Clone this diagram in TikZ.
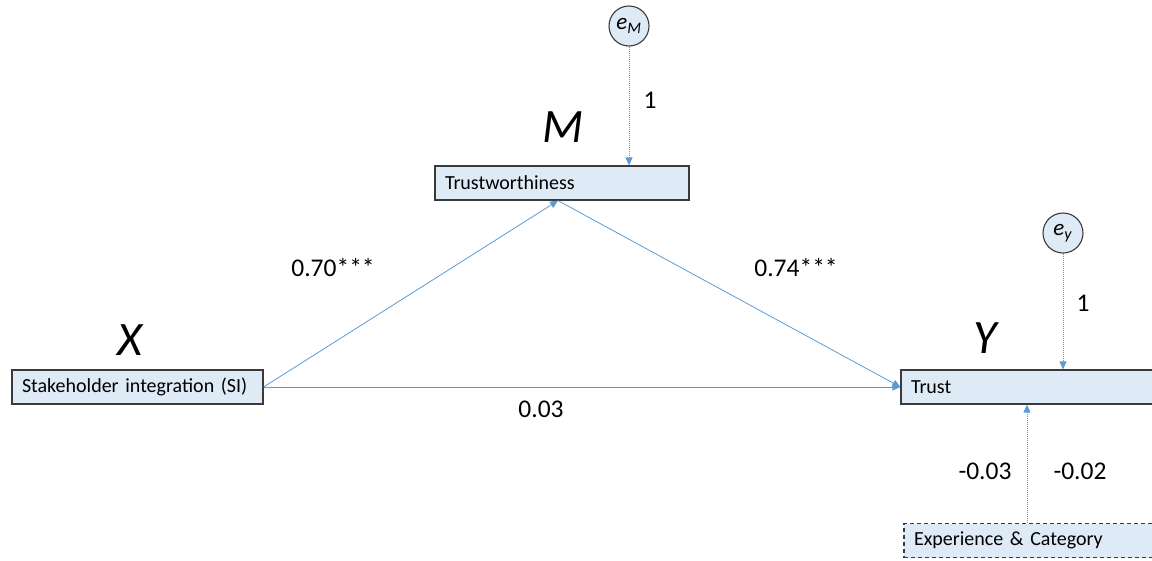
\documentclass[tikz,border=0pt]{standalone}
\usepackage{fontspec}
\setmainfont{Carlito}
\usetikzlibrary{arrows.meta}
\definecolor{boxfill}{HTML}{DEEBF7}
\definecolor{boxline}{HTML}{3A3A3A}
\definecolor{arrowblue}{HTML}{5B9BD5}
\tikzset{
  varbox/.style={draw=boxline, line width=1.2pt, fill=boxfill, inner xsep=10pt, inner ysep=0pt,
    align=left, minimum height=34pt, font=\fontsize{20}{23}\selectfont},
  errc/.style={circle, draw=boxline, line width=1.1pt, fill=boxfill, minimum size=40pt, inner sep=0pt,
    font=\fontsize{23}{26}\selectfont},
  path/.style={draw=arrowblue, line width=0.8pt, -{Triangle[width=7pt,length=8pt]}},
  errpath/.style={path, dash pattern=on 1pt off 1pt},
  coef/.style={font=\fontsize{25.5}{29}\selectfont},
  biglab/.style={font=\fontsize{48}{52}\selectfont\itshape}
}
\begin{document}
\begin{tikzpicture}[x=1pt,y=-1pt]
\clip (0,0) rectangle (1152,560);
% boxes
\node[varbox, text width=231pt] (X) at (137.5,387) {Stakeholder integration (SI)};
\node[varbox, text width=234pt] (M) at (562,183) {Trustworthiness};
\node[varbox, text width=279pt] (Y) at (1050.5,387) {Trust};
\node[varbox, text width=276pt, dash pattern=on 4pt off 3pt] (E) at (1052,540.5) {Experience \& Category};
% error terms
\node[errc] (eM) at (629,26) {\textit{e}\textsubscript{\textit{M}}};
\node[errc] (eY) at (1063,233) {\textit{e}\textsubscript{\textit{y}}};
% big labels
\node[biglab] (LX) at (130,340) {X};
\node[biglab] (LM) at (563,127) {M};
\node[biglab] (LY) at (985,338) {Y};
% paths
\coordinate (Mtip) at ([xshift=-4pt]M.south);
\draw[path] (X.east) -- (Mtip);
\draw[path] (Mtip) -- (Y.west);
\draw[path] (X.east) -- (Y.west);
\draw[errpath] (eM.south) -- (M.north -| eM.south);
\draw[errpath] (eY.south) -- (Y.north -| eY.south);
\coordinate (cx) at (1027,450);
\draw[errpath] (E.north -| cx) -- (Y.south -| cx);
% coefficients
\node[coef] (c1) at (333,268) {0.70***};
\node[coef] (c2) at (796,268) {0.74***};
\node[coef] (c3) at (541,409) {0.03};
\node[coef] (c4) at (650,100) {1};
\node[coef] (c5) at (1083,303) {1};
\node[coef] (c6) at (985,471) {-0.03};
\node[coef] (c7) at (1080,471) {-0.02};
\end{tikzpicture}
\end{document}
